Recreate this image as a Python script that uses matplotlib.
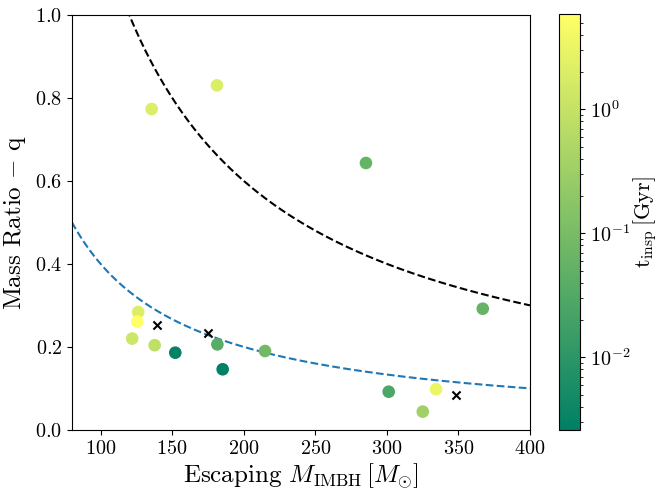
import numpy as np
import matplotlib as mpl
mpl.use("Agg")
import matplotlib.pyplot as plt
from matplotlib.colors import LogNorm

# escaping IMBH mass [Msun], mass ratio and inspiral time [Gyr] of each merger
m_imbh = [135.7, 181.3, 285.4, 367.0, 126.3, 125.6, 122.1, 137.8,
          152.2, 181.6, 185.3, 214.9, 301.3, 334.4, 325.1]
q_ratio = [0.773, 0.830, 0.643, 0.292, 0.284, 0.261, 0.220, 0.204,
           0.186, 0.206, 0.146, 0.190, 0.092, 0.098, 0.044]
t_insp = [2.0, 2.0, 0.057, 0.057, 2.0, 5.9, 1.26, 0.85,
          0.003, 0.039, 0.0026, 0.084, 0.026, 3.2, 0.34]

# systems that never merge (no inspiral time)
m_nomerge = [139.2, 175.0, 348.1]
q_nomerge = [0.253, 0.233, 0.084]

# q = M_crit / M_IMBH boundaries
M_CRIT_UPPER = 120.0
M_CRIT_LOWER = 40.0

XLIM = (80, 400)
YLIM = (0.0, 1.0)

plt.rcParams["font.family"] = "serif"
plt.rcParams["font.serif"] = ["cmr10"]
plt.rcParams["mathtext.fontset"] = "cm"
plt.rcParams["axes.formatter.use_mathtext"] = True
mpl.rcParams.update(
    {
        "axes.labelsize": 18,
        "xtick.labelsize": 14.5,
        "ytick.labelsize": 14.5,
    }
)

fig = plt.figure(figsize=(6.6, 4.93), dpi=100)
ax = fig.add_axes([0.109, 0.128, 0.694, 0.842])
cax = fig.add_axes([0.847, 0.128, 0.032, 0.844])

m_grid = np.linspace(XLIM[0], XLIM[1], 400)
ax.plot(m_grid, M_CRIT_UPPER / m_grid, "k--", lw=1.5)
ax.plot(m_grid, M_CRIT_LOWER / m_grid, "--", color="tab:blue", lw=1.5)

sc = ax.scatter(m_imbh, q_ratio, c=t_insp, cmap="summer", norm=LogNorm(), s=65, zorder=3)
ax.scatter(m_nomerge, q_nomerge, marker="x", color="k", s=34, lw=1.5, zorder=3)

ax.set_xlim(*XLIM)
ax.set_ylim(*YLIM)
ax.set_xlabel(r"Escaping $M_{\rm IMBH}\,[M_{\odot}]$", labelpad=3)
ax.set_ylabel(r"Mass Ratio $-$ q", labelpad=5)

cb = fig.colorbar(sc, cax=cax)
cb.set_label(r"$\rm t_{insp}\,[Gyr]$", fontsize=16, labelpad=1)

fig.savefig("out.png", dpi=100)
